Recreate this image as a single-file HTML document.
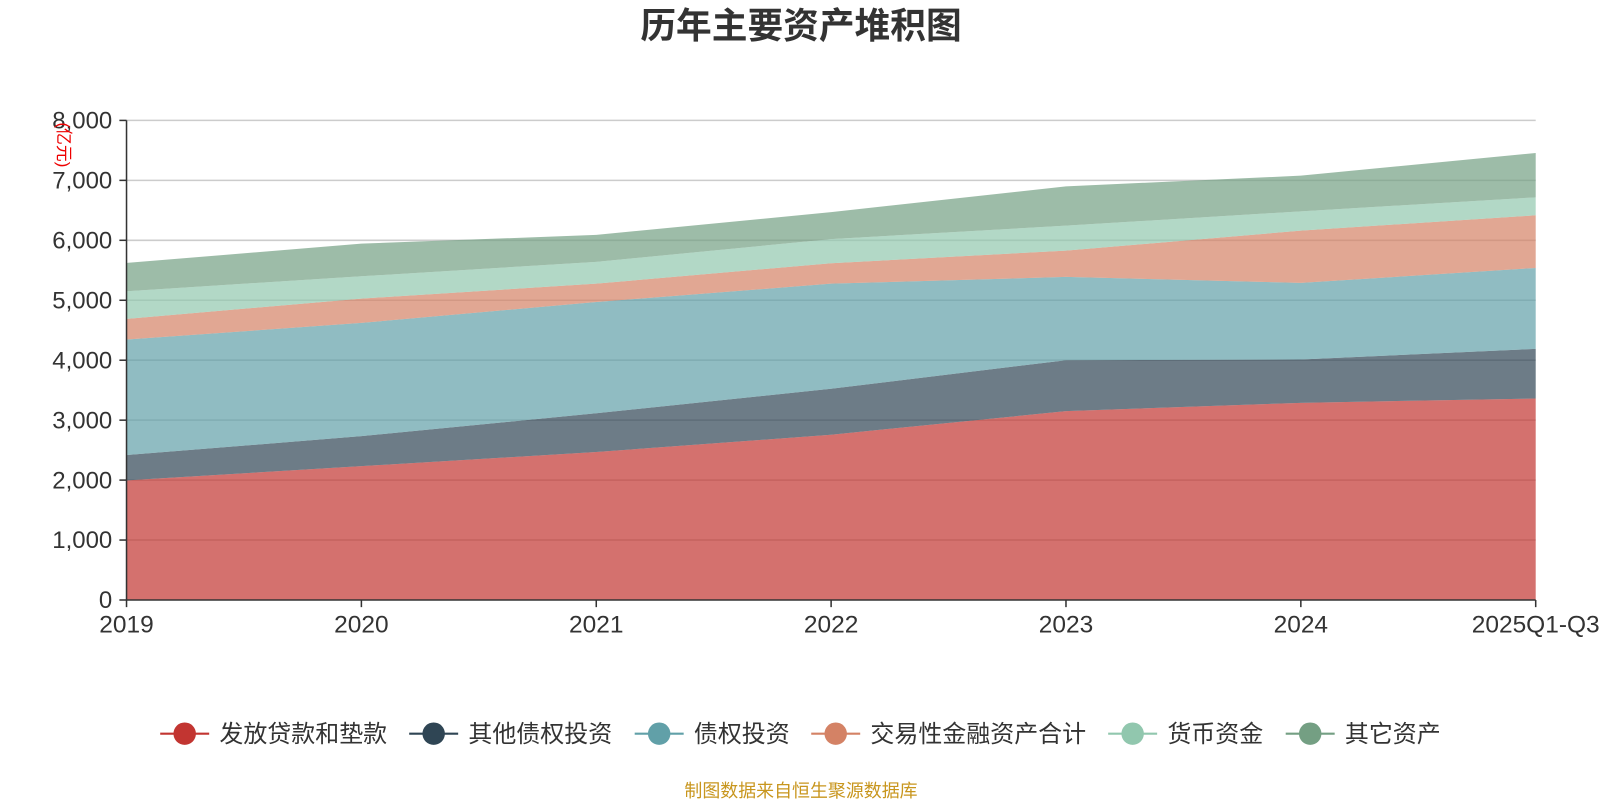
<!DOCTYPE html>
<html><head><meta charset="utf-8">
<style>
body{margin:0;background:#fff;width:1600px;height:800px;overflow:hidden;font-family:"Liberation Sans","Noto Sans CJK SC",sans-serif;}
svg text{font-family:"Liberation Sans","Noto Sans CJK SC",sans-serif;}
</style></head>
<body>
<svg id="chart" width="1600" height="800" xmlns="http://www.w3.org/2000/svg">
<g transform="scale(1.0204)">
<text x="785" y="37" text-anchor="middle" font-size="35" font-weight="bold" fill="#333">历年主要资产堆积图</text>
<g id="grid"></g>
<g id="areas"></g>
<g id="axes"></g>
<text transform="translate(57,120) rotate(90)" font-size="16.5" fill="#e00">(亿元)</text>
<g id="legend"></g>
<text x="785" y="781" text-anchor="middle" font-size="17.6" fill="#c8961e">制图数据来自恒生聚源数据库</text>
</g>
</svg>
<script>
const categories = ["2019","2020","2021","2022","2023","2024","2025Q1-Q3"];
const seriesNames = ["发放贷款和垫款","其他债权投资","债权投资","交易性金融资产合计","货币资金","其它资产"];
const loans = [1994,2233,2468,2757,3150,3289,3361];
const otherDebt = [423,500,647,766,850,722,828];
const debtInv = [1927,1889,1855,1754,1389,1278,1350];
const trading = [345,406,307,340,439,872,878];
const cash = [461,372,363,403,416,322,300];
const otherAssets = [472,544,450,450,656,595,739];
const yTicks = [0,1000,2000,3000,4000,5000,6000,7000,8000];
const yTickLabels = ["0","1,000","2,000","3,000","4,000","5,000","6,000","7,000","8,000"];

const colors = ["#c23531","#2f4554","#61a0a8","#d48265","#91c7ae","#749f83"];
const series = [loans,otherDebt,debtInv,trading,cash,otherAssets];
const X0=124,X1=1505,Y0=588,Y1=118,YMAX=8000;
const NS="http://www.w3.org/2000/svg";
const xs = i => X0 + (X1-X0)*i/(categories.length-1);
const ys = v => Y0 - (Y0-Y1)*v/YMAX;
function mk(tag,attrs,parent){const e=document.createElementNS(NS,tag);for(const k in attrs)e.setAttribute(k,attrs[k]);parent.appendChild(e);return e;}
const grid=document.getElementById('grid'),areas=document.getElementById('areas'),axes=document.getElementById('axes'),legend=document.getElementById('legend');
yTicks.forEach((t,i)=>{
  if(t>0){const l=mk('line',{x1:X0,x2:X1,y1:ys(t),y2:ys(t),stroke:'#ccc','stroke-width':1.5},grid);
  
  }
  const tk=mk('line',{x1:X0-7,x2:X0,y1:ys(t),y2:ys(t),stroke:'#333','stroke-width':1.5},axes);
  
  
  const tx=mk('text',{x:X0-14,y:ys(t)+8,'text-anchor':'end','font-size':23.5,fill:'#333'},axes);
  
  
  tx.textContent=yTickLabels[i];
});
let base=categories.map(()=>0);
series.forEach((s,si)=>{
  const top=base.map((b,i)=>b+s[i]);
  let d='M'+categories.map((c,i)=>xs(i)+','+ys(top[i])).join(' L');
  for(let i=categories.length-1;i>=0;i--) d+=' L'+xs(i)+','+ys(base[i]);
  d+=' Z';
  const p=mk('path',{d:d,fill:colors[si],'fill-opacity':0.7,stroke:'none'},areas);
  
  
  base=top;
});
const ya=mk('line',{x1:X0,x2:X0,y1:Y1,y2:Y0,stroke:'#333','stroke-width':1.5},axes);


const xa=mk('line',{x1:X0,x2:X1,y1:Y0,y2:Y0,stroke:'#333','stroke-width':1.5},axes);


categories.forEach((c,i)=>{
  const tk=mk('line',{x1:xs(i),x2:xs(i),y1:Y0,y2:Y0+7,stroke:'#333','stroke-width':1.5},axes);
  
  
  const tx=mk('text',{x:xs(i),y:620,'text-anchor':'middle','font-size':24,fill:'#333'},axes);
  
  
  tx.textContent=c;
});
const lx=[157,401,622,795,1086,1260];
seriesNames.forEach((n,i)=>{
  const g=mk('g',{},legend);
  
  
  const x=lx[i];
  mk('line',{x1:x,x2:x+48,y1:719,y2:719,stroke:colors[i],'stroke-width':2},g);
  mk('circle',{cx:x+24,cy:719,r:11,fill:colors[i]},g);
  const t=mk('text',{x:x+58,y:727,'font-size':23.5,fill:'#333'},g);
  t.textContent=n;
});
</script>
</body></html>
